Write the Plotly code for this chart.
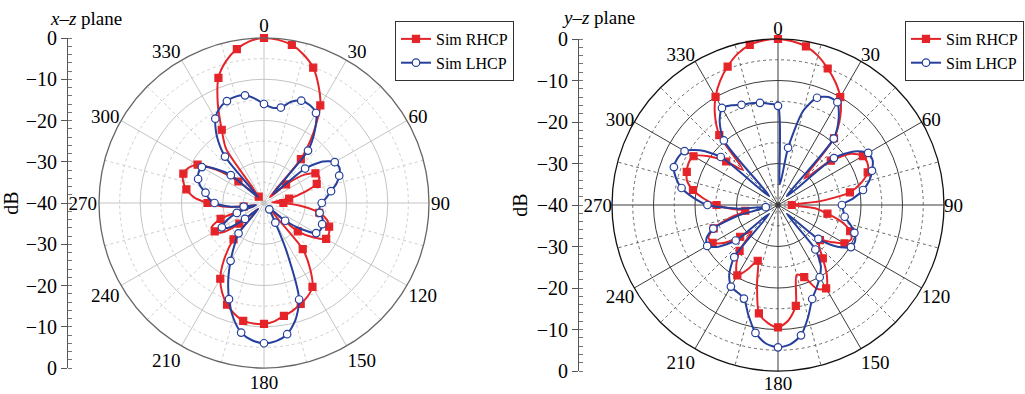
import plotly.graph_objects as go

# ---------------- data ----------------
ANGLES = list(range(0, 360, 5))

# x-z plane (left panel), dB, one value per 5 degrees starting at 0
XZ_RHCP = [0, -0.3, -1.1, -2.8, -5.1, -8.7, -12.7, -19, -26.1, -38, -33, -28,
           -25.6, -25.2, -26.4, -30, -33.8, -38, -35.3, -30.5, -26.4, -24.2, -23.2, -22.6,
           -22.6, -25.5, -29.3, -38, -25.4, -20.5, -16.5, -15, -14, -13, -12.2, -11.2,
           -10.7, -10.7, -11, -12.2, -13.8, -16, -18.8, -23, -28.5, -38, -32.2, -27.5,
           -26.2, -26, -28.8, -38, -35, -30, -26.3, -22.8, -20.9, -19.7, -19.2, -19.8,
           -21.4, -26, -31.9, -37, -38, -24, -19.5, -13.5, -7.7, -4.4, -2.1, -0.6]
XZ_LHCP = [-16, -16.8, -16.5, -14.6, -13.6, -13.8, -14.8, -18.5, -23.4, -37, -27, -22.5,
           -20.2, -19.8, -20.6, -21.8, -23.5, -24.8, -26, -26.5, -26.3, -25.3, -25, -24.8,
           -25.4, -29, -33.3, -38, -38, -37, -34.5, -27, -15.1, -10.6, -7.7, -6.4,
           -6, -6.6, -8.1, -11.2, -15.2, -19.5, -23.8, -27.5, -30.4, -38, -34, -29.5,
           -28.2, -30, -33, -38, -35, -31, -28, -26.5, -25.6, -24, -23, -22.5,
           -22.6, -25.5, -29.5, -38, -25.3, -20, -16.4, -14.6, -13.7, -13.3, -13.5, -14.6]

# y-z plane (right panel)
YZ_RHCP = [0, -0.4, -1.2, -2.8, -5, -7.3, -10, -13.8, -19, -31, -23.4, -18.5,
           -16.4, -16.2, -17, -19.2, -22.4, -30, -36.7, -31, -27.9, -24, -21.5, -20.5,
           -21.5, -24.5, -26.8, -26, -23.2, -19.5, -16.8, -17.7, -21.5, -22.6, -15.3, -12,
           -10.5, -11.5, -13.5, -20.5, -25.7, -23, -20.4, -22.5, -25.6, -31, -28.1, -24,
           -21.8, -21.5, -23.5, -28, -32, -29, -25.2, -22, -19.2, -17.3, -16.6, -16.2,
           -16.5, -19.5, -23.7, -28, -18, -13.5, -9.9, -7, -4.5, -2.3, -0.8, -0.2]
YZ_LHCP = [-16.1, -35, -26, -16.5, -12.5, -11.3, -11.4, -14.5, -19.1, -37, -22.4, -17.5,
           -14.9, -14.8, -15.9, -17.2, -19.2, -21.8, -24.6, -24.2, -23.7, -22, -20.4, -19.5,
           -19.7, -22.5, -27.3, -37, -26, -22, -19.9, -18, -15.9, -12, -8.1, -6.3,
           -5.7, -6.5, -8.7, -12.5, -16, -16.8, -17.3, -19.5, -23.6, -37, -26.7, -22.5,
           -20.3, -21, -23.4, -30, -37, -30, -23, -19.5, -16.4, -14.5, -13.3, -13.3,
           -14, -17, -22, -37, -19.7, -15.5, -13, -13.5, -14.3, -14.6, -15, -15.5]

SERIES_NAMES = ["Sim RHCP", "Sim LHCP"]
ANGLE_TICKS = list(range(0, 360, 30))
ANGLE_LABELS = [str(a) for a in ANGLE_TICKS]
ANGLE_MINOR = list(range(15, 360, 30))
RADIAL_MAJOR = [-30, -20, -10]
RADIAL_MINOR = [-35, -25, -15, -5]
DB_SCALE_VALUES = [40, 30, 20, 10, 0, -10, -20, -30, -40]
DB_SCALE_LABELS = ["0", "\u221210", "\u221220", "\u221230", "\u221240",
                   "\u221230", "\u221220", "\u221210", "0"]
PANEL_TITLES = ["<i>x</i>\u2013<i>z</i> plane", "<i>y</i>\u2013<i>z</i> plane"]

# ---------------- style ----------------
SERIF = "Liberation Serif, Times New Roman, serif"
RED = "#E52429"
BLUE = "#26409C"
W, H = 1025, 394

fig = go.Figure()


def panel(grid_id, main_id, label_id, rhcp, lhcp, legend_id):
    fig.add_trace(go.Scatterpolar(r=[None], theta=[None], subplot=grid_id,
                                  showlegend=False, hoverinfo="skip"))
    fig.add_trace(go.Scatterpolar(r=[None], theta=[None], subplot=label_id,
                                  showlegend=False, hoverinfo="skip"))
    specs = [(rhcp, RED, SERIES_NAMES[0], "square", RED),
             (lhcp, BLUE, SERIES_NAMES[1], "circle", "white")]
    for vals, col, name, sym, fillc in specs:
        mk = dict(symbol=sym, size=7 if sym == "square" else 7.5, color=fillc,
                  line=dict(color=col, width=1.2))
        fig.add_trace(go.Scatterpolar(
            r=vals + [vals[0]], theta=ANGLES + [360], mode="lines",
            line=dict(color=col, width=2, shape="spline", smoothing=0.7),
            subplot=main_id, showlegend=False, hoverinfo="skip"))
        fig.add_trace(go.Scatterpolar(
            r=vals[::2], theta=ANGLES[::2], mode="markers", marker=mk,
            subplot=main_id, showlegend=False, hoverinfo="skip"))
        fig.add_trace(go.Scatterpolar(
            r=[None], theta=[None], mode="lines+markers", name=name,
            line=dict(color=col, width=2), marker=mk,
            subplot=main_id, legend=legend_id))


panel("polar", "polar2", "polar3", XZ_RHCP, XZ_LHCP, "legend")
panel("polar4", "polar5", "polar6", YZ_RHCP, YZ_LHCP, "legend2")

# invisible traces for dB scale axes
fig.add_trace(go.Scatter(x=[None], y=[None], xaxis="x", yaxis="y", showlegend=False))
fig.add_trace(go.Scatter(x=[None], y=[None], xaxis="x2", yaxis="y2", showlegend=False))


def dom(cx, cy, R):
    return dict(x=[(cx - R) / W, (cx + R) / W],
                y=[(H - cy - R) / H, (H - cy + R) / H])


panels = [
    dict(c=(264, 203, 165), grid="#c4c4c4", minor="#cfcfcf", outer="#666666",
         ax=67, lab=1.5, ids=("polar", "polar2", "polar3")),
    dict(c=(778, 205, 166), grid="#3a3a3a", minor="#6a6a6a", outer="#111111",
         ax=578, lab=-0.5, ids=("polar4", "polar5", "polar6")),
]

layout = dict(width=W, height=H, margin=dict(l=0, r=0, t=0, b=0, autoexpand=False),
              paper_bgcolor="white", plot_bgcolor="white",
              font=dict(family=SERIF, size=19, color="black"))

for i, p in enumerate(panels):
    cx, cy, R = p["c"]
    d = dom(cx, cy, R)
    dl = dom(cx, cy, R + p["lab"])
    gid, mid, lid = p["ids"]
    layout[gid] = dict(
        domain=d, bgcolor="white",
        radialaxis=dict(range=[-40, 0], tickvals=RADIAL_MINOR, showticklabels=False,
                        ticks="", showline=False, gridcolor=p["minor"], griddash="dot",
                        gridwidth=1),
        angularaxis=dict(rotation=90, direction="clockwise", tickvals=ANGLE_MINOR,
                         showticklabels=False, ticks="", showline=False,
                         gridcolor=p["minor"], griddash="dot", gridwidth=1))
    layout[mid] = dict(
        domain=d, bgcolor="rgba(0,0,0,0)",
        radialaxis=dict(range=[-40, 0], tickvals=RADIAL_MAJOR, showticklabels=False,
                        ticks="", showline=False, gridcolor=p["grid"], gridwidth=1),
        angularaxis=dict(rotation=90, direction="clockwise", tickvals=ANGLE_TICKS,
                         showticklabels=False, ticks="", showline=True,
                         linecolor=p["outer"], linewidth=1.3, gridcolor=p["grid"],
                         gridwidth=1))
    layout[lid] = dict(
        domain=dl, bgcolor="rgba(0,0,0,0)",
        radialaxis=dict(range=[-40, 0], visible=False, showgrid=False),
        angularaxis=dict(rotation=90, direction="clockwise", tickvals=ANGLE_TICKS,
                         ticktext=ANGLE_LABELS, ticks="", showline=False, showgrid=False,
                         tickfont=dict(family=SERIF, size=19, color="black")))
    xk = "xaxis" if i == 0 else "xaxis2"
    yk = "yaxis" if i == 0 else "yaxis2"
    xa = p["ax"] / W
    layout[xk] = dict(domain=[max(xa - 0.03, 0), xa], visible=False, range=[0, 1],
                      anchor="y" if i == 0 else "y2")
    layout[yk] = dict(domain=d["y"], range=[-40, 40], anchor="free", position=xa,
                      automargin=False,
                      tickvals=DB_SCALE_VALUES, ticktext=DB_SCALE_LABELS,
                      ticks="outside", ticklen=6, tickcolor="#555", tickwidth=1,
                      showline=True, linecolor="#555", linewidth=1, showgrid=False,
                      zeroline=False, tickfont=dict(family=SERIF, size=20),
                      minor=dict(dtick=2, ticks="inside", ticklen=4, tickcolor="#777",
                                 showgrid=False),
                      title=dict(text="dB", standoff=2, font=dict(family=SERIF, size=20)))

leg = dict(font=dict(family=SERIF, size=16, color="black"), bgcolor="white",
           bordercolor="#333", borderwidth=1, xanchor="right", yanchor="top",
           tracegroupgap=0, itemwidth=30)
layout["legend"] = dict(leg, x=514 / W, y=1 - 21 / H)
layout["legend2"] = dict(leg, x=1024 / W, y=1 - 21 / H)

layout["annotations"] = [
    dict(text=PANEL_TITLES[0], x=48 / W, y=1 - 6 / H, xref="paper", yref="paper",
         xanchor="left", yanchor="top", showarrow=False,
         font=dict(family=SERIF, size=19)),
    dict(text=PANEL_TITLES[1], x=560 / W, y=1 - 5 / H, xref="paper", yref="paper",
         xanchor="left", yanchor="top", showarrow=False,
         font=dict(family=SERIF, size=19)),
]

fig.update_layout(**layout)
fig.write_html("out.html")
